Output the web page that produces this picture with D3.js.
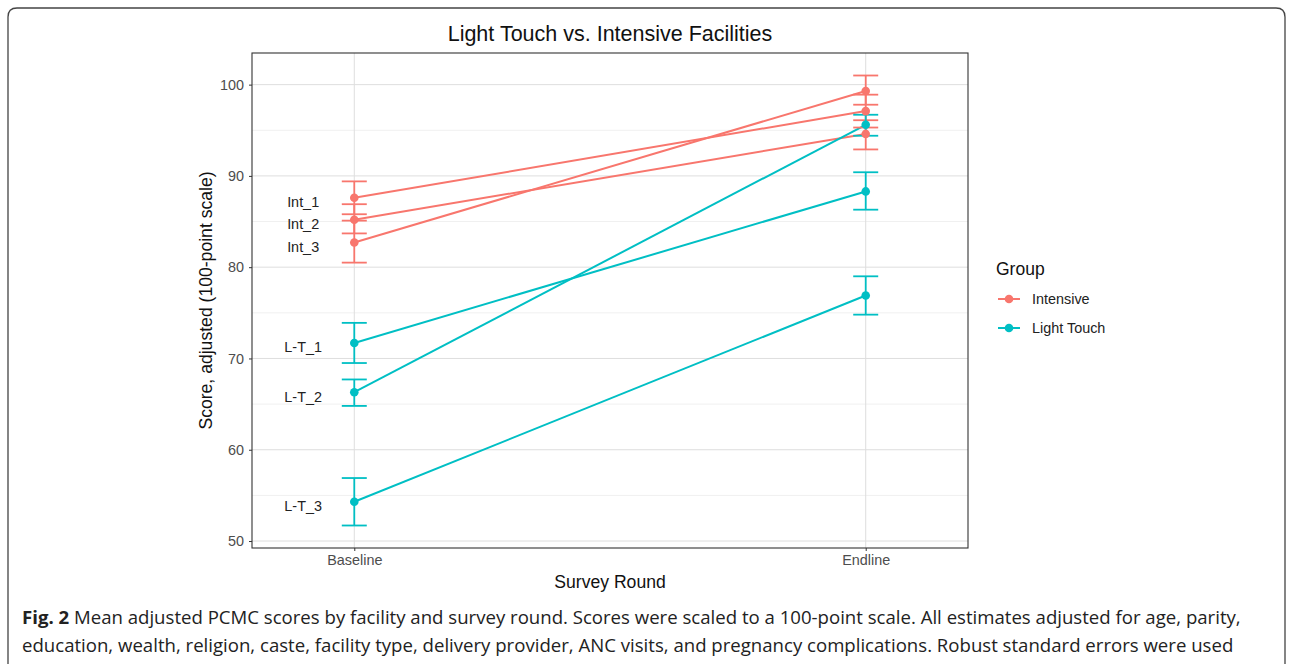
<!DOCTYPE html>
<html>
<head>
<meta charset="utf-8">
<script src="https://cdn.jsdelivr.net/npm/d3@7"></script>
<style>
  body { margin: 0; background: #fff; }
  svg text { font-family: "Liberation Sans", Arial, sans-serif; }
  .caption { font-family: "Open Sans", sans-serif; font-size: 18.6px; fill: #222; }
</style>
</head>
<body>
<div id="chart"></div>
<script>
// data
var rounds = ["Baseline", "Endline"];
var facilities = ["Int_1", "Int_2", "Int_3", "L-T_1", "L-T_2", "L-T_3"];
var groupOf = ["Intensive", "Intensive", "Intensive", "Light Touch", "Light Touch", "Light Touch"];
var groups = ["Intensive", "Light Touch"];
var yTicks = [50, 60, 70, 80, 90, 100];

var baselineScore = [87.6, 85.2, 82.7, 71.7, 66.3, 54.3];
var baselineLow   = [85.8, 83.7, 80.5, 69.5, 64.8, 51.7];
var baselineHigh  = [89.4, 86.9, 85.1, 73.9, 67.7, 56.9];
var endlineScore  = [97.1, 94.6, 99.3, 88.3, 95.6, 76.9];
var endlineLow    = [95.3, 92.9, 97.8, 86.3, 94.4, 74.8];
var endlineHigh   = [98.9, 96.1, 101.0, 90.4, 96.7, 79.0];

var W = 1292, H = 664;
var panel = { left: 252, right: 968, top: 53, bottom: 548 };

var svg = d3.select("#chart").append("svg")
    .attr("width", W)
    .attr("height", H);

// outer frame of the figure box (open at the bottom)
svg.append("path")
  .attr("d", "M8,670 L8,17 Q8,8 17,8 L1276,8 Q1285,8 1285,17 L1285,670")
  .attr("fill", "none")
  .attr("stroke", "#444")
  .attr("stroke-width", 1.3);

var color = d3.scaleOrdinal().domain(groups).range(["#F8766D", "#00BFC4"]);

// build rows
var rows = facilities.map(function(f, i) {
  return {
    name: f,
    group: groupOf[i],
    pts: [
      { round: rounds[0], v: baselineScore[i], lo: baselineLow[i], hi: baselineHigh[i] },
      { round: rounds[1], v: endlineScore[i], lo: endlineLow[i], hi: endlineHigh[i] }
    ]
  };
});

var lo = d3.min(baselineLow.concat(endlineLow)),
    hi = d3.max(baselineHigh.concat(endlineHigh)),
    pad = (hi - lo) * 0.05;

var y = d3.scaleLinear()
    .domain([lo - pad, hi + pad])
    .range([panel.bottom, panel.top]);

// discrete x with 0.2 unit padding each side
var xUnit = (panel.right - panel.left) / 1.4;
var x = d3.scalePoint()
    .domain(rounds)
    .range([panel.left + 0.2 * xUnit, panel.right - 0.2 * xUnit]);

// grid
var grid = svg.append("g");
var minor = d3.range(55, 101, 10);
grid.selectAll("line.minor").data(minor).enter().append("line")
  .attr("x1", panel.left).attr("x2", panel.right)
  .attr("y1", function(d) { return y(d); }).attr("y2", function(d) { return y(d); })
  .attr("stroke", "#f0f0f0").attr("stroke-width", 1);
grid.selectAll("line.major").data(yTicks).enter().append("line")
  .attr("x1", panel.left).attr("x2", panel.right)
  .attr("y1", function(d) { return y(d); }).attr("y2", function(d) { return y(d); })
  .attr("stroke", "#dedede").attr("stroke-width", 1);
grid.selectAll("line.vx").data(rounds).enter().append("line")
  .attr("y1", panel.top).attr("y2", panel.bottom)
  .attr("x1", function(d) { return x(d); }).attr("x2", function(d) { return x(d); })
  .attr("stroke", "#dedede").attr("stroke-width", 1);

// axes
var yAxis = svg.append("g")
  .attr("transform", "translate(" + panel.left + ",0)")
  .call(d3.axisLeft(y).tickValues(yTicks).tickSize(3).tickPadding(5));
var xAxis = svg.append("g")
  .attr("transform", "translate(0," + panel.bottom + ")")
  .call(d3.axisBottom(x).tickSize(3).tickPadding(4));
[yAxis, xAxis].forEach(function(a) {
  a.select(".domain").remove();
  a.selectAll(".tick line").attr("stroke", "#333");
  a.selectAll(".tick text").attr("fill", "#4d4d4d").style("font-size", "14.4px")
    .style("font-family", "'Liberation Sans', Arial, sans-serif");
});

// lines
var line = d3.line()
  .x(function(d) { return x(d.round); })
  .y(function(d) { return y(d.v); });

svg.append("g").selectAll("path").data(rows).enter().append("path")
  .attr("d", function(d) { return line(d.pts); })
  .attr("fill", "none")
  .attr("stroke", function(d) { return color(d.group); })
  .attr("stroke-width", 2);

// error bars
var capW = 12.5;
var eb = svg.append("g").selectAll("g").data(rows).enter().append("g")
  .attr("stroke", function(d) { return color(d.group); })
  .attr("stroke-width", 1.8);
eb.each(function(r) {
  var g = d3.select(this);
  r.pts.forEach(function(p) {
    var cx = x(p.round);
    g.append("line").attr("x1", cx).attr("x2", cx).attr("y1", y(p.lo)).attr("y2", y(p.hi));
    g.append("line").attr("x1", cx - capW).attr("x2", cx + capW).attr("y1", y(p.lo)).attr("y2", y(p.lo));
    g.append("line").attr("x1", cx - capW).attr("x2", cx + capW).attr("y1", y(p.hi)).attr("y2", y(p.hi));
  });
});

// points
svg.append("g").selectAll("g").data(rows).enter().append("g")
  .attr("fill", function(d) { return color(d.group); })
  .selectAll("circle").data(function(d) { return d.pts; }).enter().append("circle")
  .attr("cx", function(d) { return x(d.round); })
  .attr("cy", function(d) { return y(d.v); })
  .attr("r", 4.3);

// facility labels at baseline
svg.append("g").selectAll("text").data(rows).enter().append("text")
  .attr("x", x(rounds[0]) - 0.1 * xUnit)
  .attr("y", function(d) { return y(d.pts[0].v) + 9.5; })
  .attr("text-anchor", "middle")
  .attr("fill", "#222")
  .style("font-size", "14.4px")
  .text(function(d) { return d.name; });

// panel border
svg.append("rect")
  .attr("x", panel.left).attr("y", panel.top)
  .attr("width", panel.right - panel.left).attr("height", panel.bottom - panel.top)
  .attr("fill", "none").attr("stroke", "#333").attr("stroke-width", 1.1);

// titles
svg.append("text")
  .attr("x", (panel.left + panel.right) / 2).attr("y", 40.5)
  .attr("text-anchor", "middle").attr("fill", "#111")
  .style("font-size", "21.5px")
  .text("Light Touch vs. Intensive Facilities");

svg.append("text")
  .attr("x", (panel.left + panel.right) / 2).attr("y", 588)
  .attr("text-anchor", "middle").attr("fill", "#111")
  .style("font-size", "17.6px")
  .text("Survey Round");

svg.append("text")
  .attr("transform", "translate(212," + ((panel.top + panel.bottom) / 2) + ") rotate(-90)")
  .attr("text-anchor", "middle").attr("fill", "#111")
  .style("font-size", "17.6px")
  .text("Score, adjusted (100-point scale)");

// legend
var legend = svg.append("g").attr("transform", "translate(996,0)");
legend.append("text").attr("x", 0).attr("y", 275)
  .attr("fill", "#111").style("font-size", "17.5px").text("Group");
var items = legend.selectAll("g.item").data(groups).enter().append("g")
  .attr("transform", function(d, i) { return "translate(0," + (299 + i * 29) + ")"; });
items.append("line").attr("x1", 2).attr("x2", 24).attr("y1", 0).attr("y2", 0)
  .attr("stroke", function(d) { return color(d); }).attr("stroke-width", 2);
items.append("circle").attr("cx", 13).attr("cy", 0).attr("r", 4.3)
  .attr("fill", function(d) { return color(d); });
items.append("text").attr("x", 36).attr("y", 5)
  .attr("fill", "#222").style("font-size", "14.4px")
  .text(function(d) { return d; });

// caption
var cap = svg.append("g").attr("class", "caption");
var c1 = cap.append("text").attr("class", "caption").attr("x", 22).attr("y", 624);
c1.append("tspan").style("font-weight", "bold").text("Fig. 2");
c1.append("tspan").text(" Mean adjusted PCMC scores by facility and survey round. Scores were scaled to a 100-point scale. All estimates adjusted for age, parity,");
cap.append("text").attr("class", "caption").attr("x", 22).attr("y", 652)
  .text("education, wealth, religion, caste, facility type, delivery provider, ANC visits, and pregnancy complications. Robust standard errors were used");
</script>
</body>
</html>
